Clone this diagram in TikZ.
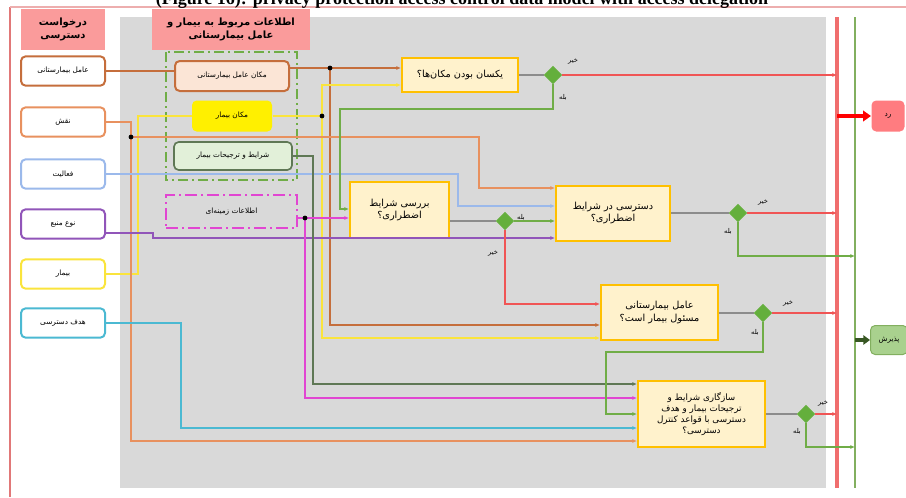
\documentclass[tikz,border=0pt]{standalone}
\usepackage{fontspec}
\setmainfont{Liberation Serif}
\newfontfamily\farsi[Script=Arabic]{DejaVu Sans}
\usetikzlibrary{shapes.geometric,arrows.meta}
\TeXXeTstate=1
\newcommand{\fatxt}[1]{{\farsi\beginR #1\endR}}

\definecolor{hdrpink}{RGB}{250,155,155}
\definecolor{bggray}{RGB}{217,217,217}
\definecolor{framec}{RGB}{225,120,120}
\definecolor{agentc}{RGB}{197,110,60}
\definecolor{agentfill}{RGB}{251,229,214}
\definecolor{rolec}{RGB}{232,145,95}
\definecolor{actc}{RGB}{155,185,235}
\definecolor{rtypec}{RGB}{145,85,185}
\definecolor{patc}{RGB}{250,228,60}
\definecolor{patfill}{RGB}{255,240,0}
\definecolor{purpc}{RGB}{75,185,210}
\definecolor{prefc}{RGB}{95,120,85}
\definecolor{preffill}{RGB}{226,240,217}
\definecolor{groupc}{RGB}{112,173,71}
\definecolor{ctxc}{RGB}{225,70,210}
\definecolor{yesc}{RGB}{112,173,71}
\definecolor{noc}{RGB}{240,85,85}
\definecolor{wirec}{RGB}{140,140,140}
\definecolor{decfill}{RGB}{255,242,204}
\definecolor{decline}{RGB}{255,192,0}
\definecolor{gatec}{RGB}{100,175,60}
\definecolor{railred}{RGB}{240,110,110}
\definecolor{railgreen}{RGB}{130,175,95}
\definecolor{accfill}{RGB}{169,209,142}
\definecolor{rejfill}{RGB}{255,124,128}
\definecolor{dkgreen}{RGB}{56,87,35}

\tikzset{every picture/.style={line width=0.75pt}}
\tikzset{
  inbox/.style={draw, line width=1.5pt, rounded corners=3.5pt, fill=white, minimum width=63pt, minimum height=22pt, inner sep=1pt, font=\fontsize{5.5}{6.5}\selectfont},
  hdrbox/.style={fill=hdrpink, minimum height=30.75pt, inner sep=1pt, align=center, font=\fontsize{7.5}{9.5}\selectfont\bfseries},
  infobox/.style={rounded corners=3.5pt, inner sep=1pt, font=\fontsize{5.5}{6.5}\selectfont},
  decbox/.style={draw=decline, fill=decfill, line width=1.5pt, align=center, inner sep=1pt, font=\fontsize{7.3}{9.5}\selectfont},
  gate/.style={diamond, aspect=1, fill=gatec, draw=gatec, minimum size=13pt, inner sep=0pt},
  lbl/.style={inner sep=0pt, font=\fontsize{5}{6}\selectfont},
  wire/.style={line width=1.1pt},
  tip/.style={-{Latex[length=3.5pt,width=3pt]}},
}

\begin{document}
\begin{tikzpicture}[x=0.75pt,y=0.75pt,yscale=-1,xscale=1]
\useasboundingbox (0,0) rectangle (906,497);

%Shape: Rectangle [gray area]
\fill[bggray] (120,17) rectangle (826,488);
%Shape: frame lines
\draw[framec, line width=1.5pt] (10,497) -- (10,7);
\draw[framec!60, line width=1pt] (10,7) -- (906,7);

% Title
\node[anchor=base, inner sep=0pt, font=\fontsize{13.5}{15}\selectfont\bfseries] (ttl) at (462,4) {(Figure 16): privacy protection access control data model with access delegation};

% Header nodes
\node[hdrbox, minimum width=63pt] (hreq) at (63,29.5) {\fatxt{درخواست}\\\fatxt{دسترسی}};
\node[hdrbox, minimum width=118.5pt] (hinfo) at (231,29.5) {\fatxt{اطلاعات مربوط به بیمار و}\\\fatxt{عامل بیمارستانی}};

% Request nodes
\node[inbox, draw=agentc] (ha) at (63,71) {\fatxt{عامل بیمارستانی}};
\node[inbox, draw=rolec] (role) at (63,122) {\fatxt{نقش}};
\node[inbox, draw=actc] (act) at (63,174) {\fatxt{فعالیت}};
\node[inbox, draw=rtypec] (rtype) at (63,224) {\fatxt{نوع منبع}};
\node[inbox, draw=patc] (pat) at (63,274) {\fatxt{بیمار}};
\node[inbox, draw=purpc] (purp) at (63,323) {\fatxt{هدف دسترسی}};

%Shape: Rectangle [dash-dot group]
\draw[groupc, line width=1.5pt, dash pattern={on 7.5pt off 3pt on 1.5pt off 3pt}] (166,52) rectangle (297,180);

% Patient / agent info nodes
\node[infobox, draw=agentc, line width=1.5pt, fill=agentfill, minimum width=85.5pt, minimum height=22.5pt] (locag) at (232,76) {\fatxt{مکان عامل بیمارستانی}};
\node[infobox, fill=patfill, minimum width=60pt, minimum height=23.25pt] (locpat) at (232,116) {\fatxt{مکان بیمار}};
\node[infobox, draw=prefc, line width=1.25pt, fill=preffill, minimum width=88.5pt, minimum height=21pt] (pref) at (233,156) {\fatxt{شرایط و ترجیحات بیمار}};
\node[infobox, rounded corners=0pt, draw=ctxc, line width=2pt, dash pattern={on 9pt off 3pt on 1.5pt off 3pt}, minimum width=98.25pt, minimum height=24.75pt] (ctx) at (231.5,211.5) {\fatxt{اطلاعات زمینه‌ای}};

% Decision nodes
\node[decbox, minimum width=87pt, minimum height=25pt] (d1) at (460,75) {\fatxt{یکسان بودن مکان‌ها؟}};
\node[decbox, minimum width=74.25pt, minimum height=42pt] (d2) at (399.5,210) {\fatxt{بررسی شرایط}\\\fatxt{اضطراری؟}};
\node[decbox, minimum width=85.5pt, minimum height=41.25pt] (d3) at (613,213) {\fatxt{دسترسی در شرایط}\\\fatxt{اضطراری؟}};
\node[decbox, minimum width=87.75pt, minimum height=41.25pt] (d4) at (659.5,312.5) {\fatxt{عامل بیمارستانی}\\\fatxt{مسئول بیمار است؟}};
\node[decbox, minimum width=95.25pt, minimum height=50pt, font=\fontsize{6.6}{8.2}\selectfont] (d5) at (701.5,414) {\fatxt{سازگاری شرایط و}\\\fatxt{ترجیحات بیمار و هدف}\\\fatxt{دسترسی با قواعد کنترل}\\\fatxt{دسترسی؟}};

% Gates
\node[gate] (g1) at (553,75) {};
\node[gate] (g2) at (505,221) {};
\node[gate] (g3) at (738,213) {};
\node[gate] (g4) at (763,313) {};
\node[gate] (g5) at (806,414) {};

% Result nodes
\node[infobox, fill=rejfill, minimum width=24.75pt, minimum height=23.25pt] (rej) at (888,116) {\fatxt{رد}};
\node[infobox, draw=railgreen, fill=accfill, minimum width=27.75pt, minimum height=21.75pt] (acc) at (889,340) {\fatxt{پذیرش}};

% Rails
\coordinate (rtop) at (837,17);
\coordinate (rbot) at (837,488);
\coordinate (gtop) at (855,17);
\coordinate (gbot) at (855,488);
\draw[railred, line width=2.8pt] (rtop) -- (rbot);
\draw[railgreen, line width=2.2pt] (gtop) -- (gbot);

% Bend points
\coordinate (ja) at (330,68);
\coordinate (ja2) at (330,325);
\coordinate (yb) at (138,116);
\coordinate (jy) at (322,116);
\coordinate (jy1) at (322,85);
\coordinate (jy2) at (322,338);
\coordinate (jr) at (131,137);
\coordinate (jr1) at (479,137);
\coordinate (jr2) at (479,188);
\coordinate (jr3) at (131,441);
\coordinate (ba) at (458,174);
\coordinate (bb) at (458,206);
\coordinate (pa) at (153,233);
\coordinate (pb) at (153,238);
\coordinate (ca) at (181,428);
\coordinate (gb) at (313,384);
\coordinate (jm) at (305,218);
\coordinate (jm2) at (305,398);
\coordinate (ya2) at (340,109);
\coordinate (ya3) at (340,209);
\coordinate (na) at (505,304);
\coordinate (yc) at (738,256);
\coordinate (yd2) at (606,352);
\coordinate (ye) at (806,447);

% Input wires
\draw[wire, agentc] (ha.east) -- (ha.east -| locag.west);
\draw[wire, agentc, tip] (locag.east |- ja) -- (ja -| d1.west);
\draw[wire, agentc, tip] (ja) -- (ja2) -- (ja2 -| d4.west);
\draw[wire, patc, line width=1.4pt] (pat.east) -| (yb) -- (yb -| locpat.west);
\draw[wire, patc, line width=1.4pt] (locpat.east) -- (jy);
\draw[wire, patc, line width=1.4pt, tip] (jy) -- (jy1) -- (jy1 -| d1.west);
\draw[wire, patc, line width=1.4pt, tip] (jy) -- (jy2) -- (jy2 -| d4.west);
\draw[wire, rolec] (role.east) -| (jr);
\draw[wire, rolec, tip] (jr) -- (jr1) -- (jr2) -- (jr2 -| d3.west);
\draw[wire, rolec, tip] (jr) -- (jr3) -- (jr3 -| d5.west);
\draw[wire, actc, tip] (act.east) -- (ba) -- (bb) -- (bb -| d3.west);
\draw[wire, rtypec, tip] (pa -| rtype.east) -- (pa) -- (pb) -- (pb -| d3.west);
\draw[wire, purpc, tip] (purp.east) -| (ca) -- (ca -| d5.west);
\draw[wire, prefc, tip] (pref.east) -| (gb) -- (gb -| d5.west);
\draw[wire, ctxc] (ctx.east |- jm) -- (jm);
\draw[wire, ctxc, tip] (jm) -- (jm -| d2.west);
\draw[wire, ctxc, tip] (jm) -- (jm2) -- (jm2 -| d5.west);

% Junction dots
\fill (ja) circle (2.4);
\fill (jy) circle (2.4);
\fill (jr) circle (2.4);
\fill (jm) circle (2.4);

% Decision wires
\draw[wire, wirec] (d1.east |- g1) -- (g1);
\draw[wire, wirec] (d2.east |- g2) -- (g2);
\draw[wire, wirec] (d3.east |- g3) -- (g3);
\draw[wire, wirec] (d4.east |- g4) -- (g4);
\draw[wire, wirec] (d5.east |- g5) -- (g5);
\draw[wire, noc, tip] (g1) -- (g1 -| rtop);
\draw[wire, noc, tip] (g3) -- (g3 -| rtop);
\draw[wire, noc, tip] (g4) -- (g4 -| rtop);
\draw[wire, noc, tip] (g5) -- (g5 -| rtop);
\draw[wire, noc, line width=1.4pt, tip] (g2.south) -- (na) -- (na -| d4.west);
\draw[wire, yesc, tip] (g1.south) |- (ya2) -- (ya3) -- (ya3 -| d2.west);
\draw[wire, yesc, tip] (g2) -- (g2 -| d3.west);
\draw[wire, yesc, tip] (g3.south) -- (yc) -- (yc -| gtop);
\draw[wire, yesc, tip] (g4.south) |- (yd2) |- (d5.west);
\draw[wire, yesc, tip] (g5.south) -- (ye) -- (ye -| gtop);
\draw[red, line width=3.5pt, -{Triangle[length=6pt,width=8pt]}] (rej -| rtop) -- (rej.west);
\draw[dkgreen, line width=3pt, -{Triangle[length=5pt,width=7pt]}] (acc -| gtop) -- (acc.west);

% Gate labels
\node[lbl] (n1) at (573,62) {\fatxt{خیر}};
\node[lbl] (y1) at (563,97) {\fatxt{بله}};
\node[lbl] (y2) at (521,217) {\fatxt{بله}};
\node[lbl] (n2) at (493,254) {\fatxt{خیر}};
\node[lbl] (n3) at (763,203) {\fatxt{خیر}};
\node[lbl] (y3) at (728,231) {\fatxt{بله}};
\node[lbl] (n4) at (788,304) {\fatxt{خیر}};
\node[lbl] (y4) at (755,332) {\fatxt{بله}};
\node[lbl] (n5) at (823,404) {\fatxt{خیر}};
\node[lbl] (y5) at (797,431) {\fatxt{بله}};

\end{tikzpicture}
\end{document}
